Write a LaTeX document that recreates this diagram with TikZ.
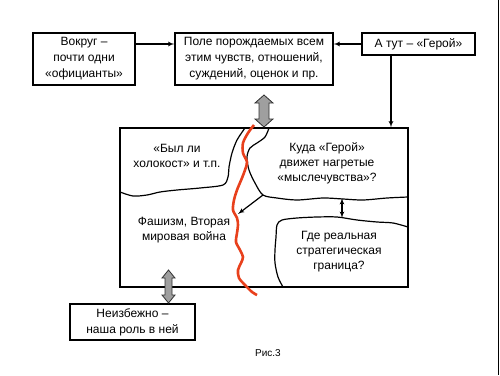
\documentclass[tikz,border=0pt]{standalone}
\usepackage{fontspec}
\setmainfont{Liberation Sans}
\usepackage{tikz}
\usetikzlibrary{arrows}

\definecolor{redline}{RGB}{232,64,28}

\begin{document}
\begin{tikzpicture}[%
>=latex', x=1pt, y=-1pt,
every node/.style={font=\fontsize{12}{16}\selectfont},
textbox/.style={draw, shape=rectangle, line width=1.2pt, inner sep=0pt, align=center},
field/.style={draw, shape=rectangle, line width=1.2pt, inner sep=0pt, minimum width=288pt, minimum height=159pt},
inner/.style={align=center, font=\fontsize{12}{15}\selectfont},
fatarrow/.style={draw=gray!40!black, fill=gray!75, line width=0.8pt, line join=miter},
border/.style={black, line width=0.8pt}
]
\useasboundingbox (0,0) rectangle (500,375);
\draw[border] (498.5,0) -- (498.5,375);

\node[textbox, minimum width=102pt, minimum height=52pt] (vokrug) at (84,59) {Вокруг --\\почти одни\\«официанты»};
\node[textbox, minimum width=158pt, minimum height=52pt] (pole) at (254,59) {Поле порождаемых всем\\этим чувств, отношений,\\суждений, оценок и пр.};
\node[textbox, minimum width=113pt, minimum height=22pt] (atut) at (418.5,44) {А тут -- «Герой»};
\node[field] (main) at (264,207.5) {};
\node[textbox, minimum width=125pt, minimum height=36pt] (neizb) at (132.5,322) {Неизбежно --\\наша роль в ней};
\node[font=\fontsize{10}{12}\selectfont] (ris) at (268,353) {Рис.3};

\draw[->, line width=1.2pt] (vokrug.east |- atut) -- (pole.west |- atut);
\draw[->, line width=1.2pt] (atut.west) -- (pole.east |- atut);
\draw[->, line width=1.2pt] (atut.south -| 391,0) -- (main.north -| 391,0);

% borders between the areas
\draw[line width=1.2pt] plot[smooth] coordinates {(245,128) (237,140) (232,153) (229,167) (228,177) (223,185) (200,188) (177,190) (160,192) (147,195) (133,196) (120,192)};
\draw[line width=1.2pt] plot[smooth] coordinates {(269,128) (265,137) (257,143) (250,148) (247,157) (249,170) (255,183) (263,195) (277,198) (297,200) (323,198) (343,199) (363,200) (387,198) (408,197)};
\draw[line width=1.2pt] plot[smooth] coordinates {(283,287) (278,277) (275,263) (275,250) (276,237) (277,225) (282,220) (297,218) (317,217) (337,217) (357,220) (377,222) (393,223) (408,227)};
\coordinate (fork) at (263,195);
\coordinate (hit) at (238,214);
\draw[->, line width=1.2pt] (fork) -- (hit);
\coordinate (gapt) at (342,198);
\coordinate (gapb) at (342,218);
\draw[<->, line width=1.2pt] (gapt) -- (gapb);

% the red line
\draw[redline, line width=2.6pt] plot[smooth] coordinates {(254,125) (248,133) (243,143) (243,153) (247,162) (245,170) (242,178) (237,190) (234,200) (233,210) (237,218) (238,225) (237,233) (236,242) (240,250) (243,257) (241,263) (238,270) (239,278) (245,285) (252,292) (257,295)};

\node[inner] (byl) at (177,155.5) {«Был ли\\холокост» и т.п.};
\node[inner] (kuda) at (327,163) {Куда «Герой»\\движет нагретые\\«мыслечувства»?};
\node[inner] (fash) at (184,230) {Фашизм, Вторая\\мировая война};
\node[inner] (gde) at (339,252) {Где реальная\\стратегическая\\граница?};

% gray double arrows
\draw[fatarrow] (259,103) -- (255,103) -- (264,95) -- (273,103) -- (269,103) -- (269,119) -- (273,119) -- (264,127) -- (255,119) -- (259,119) -- cycle;
\draw[fatarrow] (165,278) -- (162,278) -- (168.5,270) -- (175,278) -- (172,278) -- (172,295) -- (175,295) -- (168.5,303) -- (162,295) -- (165,295) -- cycle;
\end{tikzpicture}
\end{document}
